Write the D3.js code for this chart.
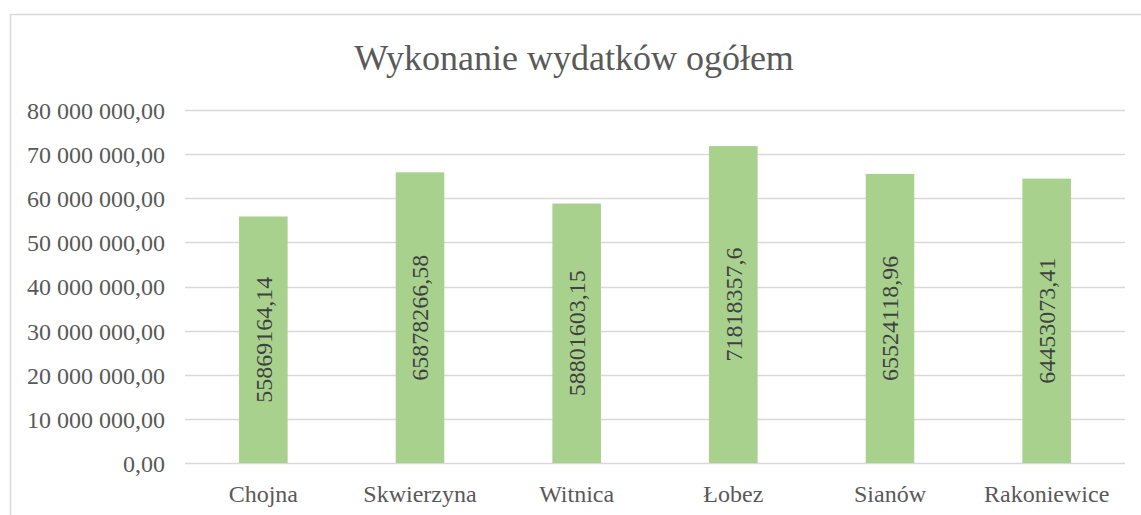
<!DOCTYPE html>
<html>
<head>
<meta charset="utf-8">
<script src="https://cdn.jsdelivr.net/npm/d3@7"></script>
<style>
  body { margin: 0; background: #fff; }
</style>
</head>
<body>
<div id="chart"></div>
<script>
var categories = ["Chojna", "Skwierzyna", "Witnica", "Łobez", "Sianów", "Rakoniewice"];
var values = [55869164.14, 65878266.58, 58801603.15, 71818357.6, 65524118.96, 64453073.41];
var valueLabels = ["55869164,14", "65878266,58", "58801603,15", "71818357,6", "65524118,96", "64453073,41"];
var yTicks = [0, 10000000, 20000000, 30000000, 40000000, 50000000, 60000000, 70000000, 80000000];
var title = "Wykonanie wydatków ogółem";

var W = 1141, H = 515;
var margin = { top: 110, right: 16, bottom: 52, left: 185 },
    width = W - margin.left - margin.right,
    height = H - margin.top - margin.bottom;

var font = "'Liberation Serif', 'Times New Roman', serif";

var root = d3.select("#chart")
    .append("svg")
    .attr("width", W)
    .attr("height", H);

// chart frame
root.append("rect")
    .attr("x", 10.5)
    .attr("y", 14.5)
    .attr("width", W + 20)
    .attr("height", H + 20)
    .attr("fill", "#fff")
    .attr("stroke", "#d9d9d9")
    .attr("stroke-width", 1.5);

root.append("text")
    .attr("x", 574)
    .attr("y", 70)
    .attr("fill", "#595959")
    .style("font-family", font)
    .style("font-size", "36px")
    .style("text-anchor", "middle")
    .text(title);

var svg = root.append("g")
    .attr("transform", "translate(" + margin.left + "," + margin.top + ")");

var x = d3.scaleBand()
    .domain(categories)
    .range([0, width])
    .paddingInner(0.69)
    .paddingOuter(0.345);

var y = d3.scaleLinear()
    .domain([0, 80000000])
    .range([height, 0]);

var fmt = function (v) {
    return d3.format(",.2f")(v).replace(/,/g, " ").replace(".", ",");
};

// gridlines
svg.append("g")
    .selectAll("line")
    .data(yTicks)
    .enter()
    .append("line")
    .attr("x1", 0)
    .attr("x2", width)
    .attr("y1", function (d) { return Math.round(y(d)) + 0.5; })
    .attr("y2", function (d) { return Math.round(y(d)) + 0.5; })
    .attr("stroke", "#d9d9d9")
    .attr("stroke-width", 1.5);

// y axis labels
var yAxis = svg.append("g")
    .call(d3.axisLeft(y).tickValues(yTicks).tickFormat(fmt).tickSize(0).tickPadding(20));
yAxis.select(".domain").remove();
yAxis.selectAll("text")
    .attr("fill", "#595959")
    .attr("dy", "0.35em")
    .style("font-family", font)
    .style("font-size", "24px");

// x axis labels
var xAxis = svg.append("g")
    .attr("transform", "translate(0," + height + ")")
    .call(d3.axisBottom(x).tickSize(0).tickPadding(22));
xAxis.select(".domain").remove();
xAxis.selectAll("text")
    .attr("fill", "#595959")
    .style("font-family", font)
    .style("font-size", "24px");

// bars
svg.selectAll(".bar")
    .data(values)
    .enter()
    .append("rect")
    .attr("class", "bar")
    .attr("x", function (d, i) { return x(categories[i]); })
    .attr("y", function (d) { return y(d); })
    .attr("width", x.bandwidth())
    .attr("height", function (d) { return height - y(d); })
    .attr("fill", "#a9d18e");

// value labels, rotated, centred in bar
svg.selectAll(".lbl")
    .data(values)
    .enter()
    .append("text")
    .attr("class", "lbl")
    .attr("transform", function (d, i) {
        var cx = x(categories[i]) + x.bandwidth() / 2;
        var cy = (y(d) + height) / 2;
        return "translate(" + cx + "," + cy + ") rotate(-90)";
    })
    .attr("dy", "0.35em")
    .attr("fill", "#404040")
    .style("font-family", font)
    .style("font-size", "24px")
    .style("text-anchor", "middle")
    .text(function (d, i) { return valueLabels[i]; });
</script>
</body>
</html>
